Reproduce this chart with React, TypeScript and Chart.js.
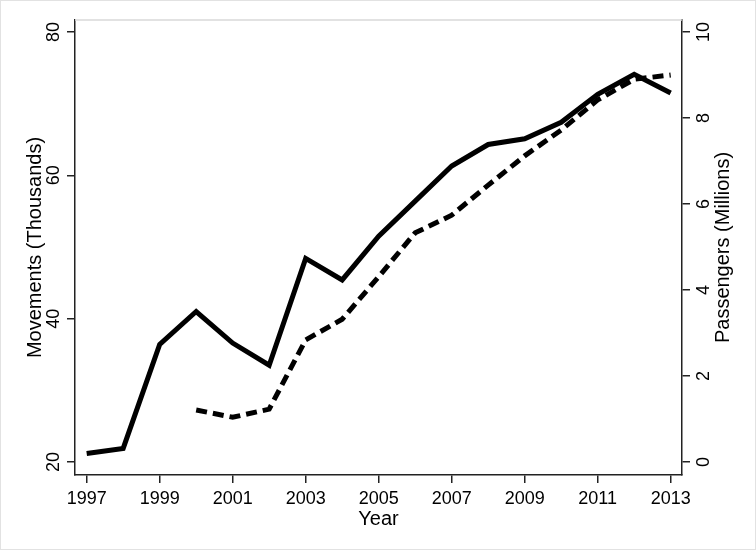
import React, { useEffect, useRef } from "react";
import { Chart, registerables } from "chart.js";

Chart.register(...registerables);

const years = [1997, 1998, 1999, 2000, 2001, 2002, 2003, 2004, 2005, 2006, 2007, 2008, 2009, 2010, 2011, 2012, 2013];
const movements = [21.2, 21.9, 36.4, 41.0, 36.6, 33.5, 48.4, 45.4, 51.5, 56.4, 61.3, 64.3, 65.1, 67.4, 71.3, 74.1, 71.5];
const passengers = [null, null, null, 1.21, 1.04, 1.23, 2.84, 3.32, 4.31, 5.33, 5.74, 6.44, 7.12, 7.72, 8.42, 8.9, 9.0];
const xTicks = [1997, 1999, 2001, 2003, 2005, 2007, 2009, 2011, 2013];
const leftTicks = [20, 40, 60, 80];
const rightTicks = [0, 2, 4, 6, 8, 10];

const FONT = "'Liberation Sans', Arial, Helvetica, sans-serif";

export default function App() {
  const ref = useRef<HTMLCanvasElement | null>(null);
  useEffect(() => {
    if (!ref.current) return;
    const framePlugin = {
      id: "frame",
      afterDraw(chart: any) {
        const { ctx, chartArea, width, height } = chart;
        ctx.save();
        ctx.strokeStyle = "#e2e2e2";
        ctx.lineWidth = 1;
        ctx.strokeRect(0.5, 0.5, width - 1, height - 1);
        ctx.strokeStyle = "#d8d8d8";
        ctx.lineWidth = 1.5;
        ctx.beginPath();
        ctx.moveTo(chartArea.left, chartArea.top);
        ctx.lineTo(chartArea.right, chartArea.top);
        ctx.stroke();
        // right axis title (reads bottom-to-top)
        ctx.fillStyle = "#000";
        ctx.font = `20px ${FONT}`;
        ctx.textAlign = "center";
        ctx.textBaseline = "middle";
        ctx.translate(723, (chartArea.top + chartArea.bottom) / 2);
        ctx.rotate(-Math.PI / 2);
        ctx.fillText("Passengers (Millions)", 0, 0);
        ctx.restore();
      },
    };
    const chart = new Chart(ref.current, {
      type: "line",
      data: {
        datasets: [
          {
            label: "Movements",
            data: years.map((y, i) => ({ x: y, y: movements[i] })),
            yAxisID: "y",
            borderColor: "#000",
            borderWidth: 5,
            pointRadius: 0,
            borderJoinStyle: "miter",
            tension: 0,
          },
          {
            label: "Passengers",
            data: years
              .map((y, i) => ({ x: y, y: passengers[i] }))
              .filter((p) => p.y !== null) as any,
            yAxisID: "y1",
            borderColor: "#000",
            borderWidth: 5,
            borderDash: [11, 6],
            pointRadius: 0,
            borderJoinStyle: "miter",
            tension: 0,
          },
        ],
      },
      options: {
        animation: false,
        responsive: true,
        maintainAspectRatio: false,
        layout: { padding: { top: 20, left: 0, right: 0, bottom: 0 } },
        plugins: { legend: { display: false }, tooltip: { enabled: false } },
        scales: {
          x: {
            type: "linear",
            min: 1996.68,
            max: 2013.31,
            afterBuildTicks: (s: any) => {
              s.ticks = xTicks.map((v) => ({ value: v }));
            },
            afterFit: (s: any) => {
              s.height = 75;
            },
            grid: { drawOnChartArea: false, drawTicks: true, tickLength: 8, color: "#222", lineWidth: 1.5 },
            border: { color: "#222", width: 1.5 },
            ticks: {
              color: "#000",
              font: { family: FONT, size: 18 },
              padding: 5,
              maxRotation: 0,
              minRotation: 0,
              autoSkip: false,
              callback: (v: any) => String(v),
            },
            title: {
              display: true,
              text: "Year",
              color: "#000",
              font: { family: FONT, size: 20 },
              padding: { top: 0, bottom: 19 },
            },
          },
          y: {
            type: "linear",
            position: "left",
            min: 18.186,
            max: 81.674,
            afterBuildTicks: (s: any) => {
              s.ticks = leftTicks.map((v) => ({ value: v }));
            },
            afterFit: (s: any) => {
              s.width = 75;
            },
            grid: { drawOnChartArea: false, drawTicks: true, tickLength: 8, color: "#222", lineWidth: 1.5 },
            border: { color: "#222", width: 1.5 },
            ticks: {
              color: "#000",
              font: { family: FONT, size: 18 },
              minRotation: 90,
              maxRotation: 90,
              crossAlign: "center",
              padding: 3,
              autoSkip: false,
              callback: (v: any) => String(v),
            },
            title: {
              display: true,
              text: "Movements (Thousands)",
              color: "#000",
              font: { family: FONT, size: 20 },
              padding: { top: 23, bottom: 0 },
            },
          },
          y1: {
            type: "linear",
            position: "right",
            min: -0.302,
            max: 10.279,
            afterBuildTicks: (s: any) => {
              s.ticks = rightTicks.map((v) => ({ value: v }));
            },
            afterFit: (s: any) => {
              s.width = 74;
            },
            grid: { drawOnChartArea: false, drawTicks: true, tickLength: 8, color: "#222", lineWidth: 1.5 },
            border: { color: "#222", width: 1.5 },
            ticks: {
              color: "#000",
              font: { family: FONT, size: 18 },
              minRotation: 90,
              maxRotation: 90,
              crossAlign: "center",
              padding: 4,
              autoSkip: false,
              callback: (v: any) => String(v),
            },
          },
        },
      },
      plugins: [framePlugin],
    });
    return () => chart.destroy();
  }, []);
  return (
    <div style={{ position: "fixed", left: 0, top: 0, width: 756, height: 550, background: "#fff" }}>
      <canvas ref={ref} />
    </div>
  );
}
